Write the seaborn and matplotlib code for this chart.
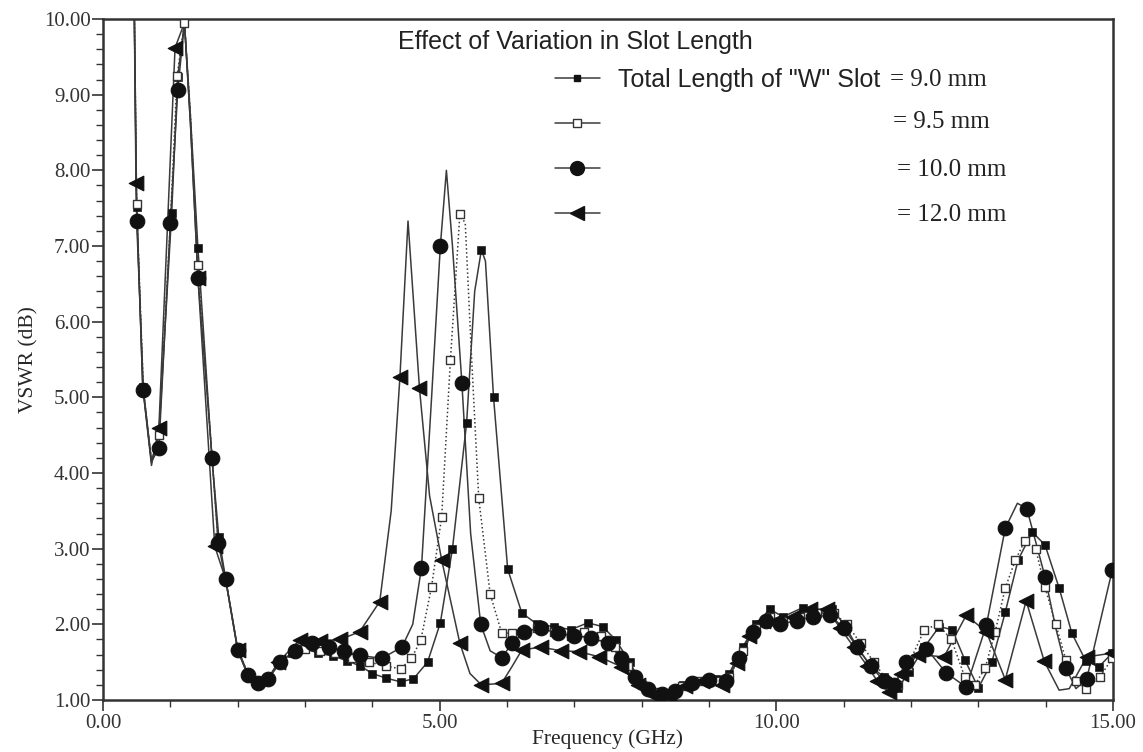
import matplotlib
matplotlib.use('Agg')
import matplotlib.pyplot as plt
from matplotlib.lines import Line2D
from matplotlib.ticker import MultipleLocator, FormatStrFormatter
import pandas as pd
import seaborn as sns

# ---- data (GHz, VSWR) ----
# marked points of each curve, plus a few extra points the line passes through
f_90 = [0.50, 0.59, 0.83, 1.02, 1.11, 1.21, 1.41, 1.62, 1.72, 1.82, 2.00, 2.15, 2.30, 2.45, 2.63,
        2.80, 2.98, 3.20, 3.42, 3.62, 3.82, 4.00, 4.20, 4.42, 4.61, 4.82, 5.01, 5.19, 5.40, 5.62,
        5.80, 6.01, 6.22, 6.45, 6.70, 6.95, 7.20, 7.42, 7.62, 7.82, 8.01, 8.20, 8.41, 8.61, 8.85,
        9.10, 9.30, 9.50, 9.70, 9.90, 10.10, 10.39, 10.60, 10.82, 11.01, 11.20, 11.40, 11.60, 11.81,
        11.97, 12.20, 12.42, 12.61, 12.80, 13.00, 13.20, 13.40, 13.59, 13.80, 13.99, 14.20, 14.39,
        14.60, 14.79, 14.99]
v_90 = [7.52, 5.14, 4.50, 7.44, 9.24, 9.95, 6.97, 4.17, 3.15, 2.61, 1.68, 1.35, 1.23, 1.28, 1.49,
        1.62, 1.68, 1.62, 1.58, 1.52, 1.45, 1.35, 1.29, 1.24, 1.28, 1.50, 2.02, 3.00, 4.66, 6.95,
        5.00, 2.73, 2.15, 2.00, 1.97, 1.93, 2.02, 1.97, 1.79, 1.50, 1.20, 1.10, 1.07, 1.20, 1.25,
        1.28, 1.35, 1.70, 2.00, 2.20, 2.10, 2.22, 2.15, 2.20, 2.00, 1.70, 1.45, 1.30, 1.16,
        1.37, 1.70, 1.97, 1.93, 1.53, 1.16, 1.50, 2.16, 2.85, 3.22, 3.05, 2.48, 1.88,
        1.51, 1.44, 1.62]
f_90_line = [0.46, 0.72, 1.30, 5.52, 5.68]
v_90_line = [10.5, 4.15, 8.70, 6.40, 6.80]

f_95 = [0.50, 0.60, 0.83, 1.00, 1.10, 1.21, 1.41, 1.62, 1.71, 1.82, 2.00, 2.15, 2.30, 2.45, 2.63,
        2.82, 3.00, 3.22, 3.45, 3.70, 3.95, 4.20, 4.42, 4.58, 4.72, 4.88, 5.03, 5.16, 5.30, 5.58,
        5.75, 5.92, 6.07, 6.22, 6.45, 6.70, 6.95, 7.15, 7.40, 7.60, 7.80, 8.00, 8.20, 8.40, 8.60,
        8.85, 9.10, 9.30, 9.50, 9.70, 9.90, 10.10, 10.35, 10.60, 10.85, 11.05, 11.25, 11.45, 11.65,
        11.80, 11.95, 12.20, 12.40, 12.60, 12.80, 12.95, 13.10, 13.25, 13.40, 13.55, 13.69, 13.85,
        13.99, 14.15, 14.30, 14.45, 14.60, 14.80, 14.99]
v_95 = [7.55, 5.10, 4.50, 7.30, 9.25, 9.95, 6.75, 4.20, 3.10, 2.60, 1.67, 1.35, 1.23, 1.28, 1.50,
        1.63, 1.68, 1.65, 1.62, 1.55, 1.50, 1.45, 1.41, 1.55, 1.79, 2.50, 3.42, 5.50, 7.42, 3.67,
        2.40, 1.89, 1.88, 1.90, 1.95, 1.90, 1.85, 1.90, 1.85, 1.70, 1.45, 1.20, 1.10, 1.08, 1.18,
        1.25, 1.25, 1.30, 1.65, 1.95, 2.10, 2.05, 2.10, 2.15, 2.15, 2.00, 1.75, 1.50, 1.25,
        1.20, 1.45, 1.93, 2.00, 1.80, 1.30, 1.20, 1.42, 1.90, 2.48, 2.85, 3.10, 3.00,
        2.49, 2.00, 1.53, 1.25, 1.15, 1.30, 1.55]
f_95_line = [0.46, 0.72, 1.30, 5.38, 5.47]
v_95_line = [10.5, 4.15, 8.70, 7.30, 5.60]

f_100 = [0.50, 0.60, 0.83, 1.00, 1.11, 1.41, 1.62, 1.71, 1.82, 2.00, 2.15, 2.30, 2.45, 2.63, 2.85,
         3.10, 3.35, 3.58, 3.81, 4.14, 4.44, 4.73, 5.01, 5.33, 5.61, 5.92, 6.08, 6.25, 6.50, 6.75,
         7.00, 7.25, 7.50, 7.70, 7.90, 8.10, 8.30, 8.50, 8.75, 9.00, 9.25, 9.45, 9.65, 9.85, 10.05,
         10.30, 10.55, 10.80, 11.00, 11.20, 11.40, 11.60, 11.75, 11.93, 12.23, 12.52, 12.82, 13.12,
         13.40, 13.72, 13.99, 14.30, 14.61, 14.99]
v_100 = [7.33, 5.10, 4.33, 7.30, 9.06, 6.58, 4.20, 3.08, 2.60, 1.66, 1.33, 1.22, 1.28, 1.50, 1.65,
         1.75, 1.70, 1.65, 1.59, 1.55, 1.70, 2.75, 7.00, 5.19, 2.00, 1.56, 1.75, 1.90, 1.95, 1.88,
         1.85, 1.82, 1.75, 1.55, 1.30, 1.15, 1.08, 1.12, 1.22, 1.27, 1.25, 1.55, 1.90, 2.05, 2.00,
         2.05, 2.10, 2.12, 1.95, 1.70, 1.45, 1.25, 1.20, 1.50, 1.68, 1.36, 1.17, 1.99,
         3.27, 3.53, 2.63, 1.42, 1.28, 2.72]
f_100_line = [0.46, 0.72, 1.21, 1.30, 4.60, 4.88, 5.10, 5.19, 5.46, 5.75, 13.58, 14.15, 14.45, 14.80]
v_100_line = [10.5, 4.15, 9.95, 8.60, 2.00, 5.00, 8.00, 7.00, 3.20, 1.65, 3.60, 1.95, 1.15, 2.00]

f_120 = [0.49, 0.83, 1.07, 1.41, 1.66, 2.00, 2.60, 2.92, 3.22, 3.52, 3.81, 4.11, 4.41, 4.70, 5.03,
         5.30, 5.62, 5.92, 6.22, 6.50, 6.80, 7.07, 7.37, 7.70, 7.95, 8.20, 8.40, 8.65, 8.90, 9.20,
         9.41, 9.60, 9.80, 10.00, 10.25, 10.50, 10.75, 10.95, 11.15, 11.35, 11.50, 11.68, 11.85,
         12.10, 12.49, 12.82, 13.12, 13.40, 13.71, 13.98, 14.61, 14.99]
v_120 = [7.83, 4.60, 9.62, 6.58, 3.03, 1.66, 1.50, 1.79, 1.78, 1.80, 1.90, 2.30, 5.27, 5.12, 2.85,
         1.75, 1.20, 1.22, 1.66, 1.70, 1.65, 1.64, 1.57, 1.44, 1.20, 1.05, 1.05, 1.18, 1.25, 1.20,
         1.49, 1.85, 2.05, 2.05, 2.10, 2.20, 2.20, 1.95, 1.70, 1.45, 1.25, 1.10, 1.35,
         1.60, 1.57, 2.12, 1.90, 1.27, 2.31, 1.51, 1.57, 1.62]
f_120_line = [0.46, 0.59, 0.72, 1.21, 1.30, 1.82, 2.15, 2.30, 2.45, 4.28, 4.53, 4.85, 5.45, 6.08,
              14.20, 14.35]
v_120_line = [10.5, 5.14, 4.10, 9.95, 8.60, 2.60, 1.33, 1.22, 1.28, 3.50, 7.33, 3.70, 1.35, 1.45,
              1.13, 1.15]

x_ticks = [0, 5, 10, 15]
y_ticks = [1, 2, 3, 4, 5, 6, 7, 8, 9, 10]

title = 'Effect of Variation in Slot Length'
legend_head = 'Total Length of "W" Slot'
legend_vals = ['= 9.0 mm', '= 9.5 mm', '= 10.0 mm', '= 12.0 mm']

# ---- style ----
LINE = '#3a3a3a'
INK = '#111111'
SERIF = ['Liberation Serif', 'DejaVu Serif']
SANS = ['Liberation Sans', 'DejaVu Sans']

sns.set_style('ticks')
plt.rcParams.update({
    'font.family': SERIF,
    'axes.edgecolor': '#333333',
    'axes.linewidth': 1.8,
    'xtick.color': '#333333',
    'ytick.color': '#333333',
})

fig = plt.figure(figsize=(11.43, 7.52), dpi=100)
ax = fig.add_axes([103 / 1143, 1 - 700 / 752, (1113 - 103) / 1143, (700 - 19) / 752])

series = [
    (f_90, v_90, f_90_line, v_90_line, '-',
     dict(marker='s', s=30, color=INK, edgecolor=INK)),
    (f_95, v_95, f_95_line, v_95_line, ':',
     dict(marker='s', s=34, facecolor='white', edgecolor='#333333', linewidth=1.0)),
    (f_100, v_100, f_100_line, v_100_line, '-',
     dict(marker='o', s=110, color=INK, edgecolor=INK)),
    (f_120, v_120, f_120_line, v_120_line, '-',
     dict(marker='<', s=110, color=INK, edgecolor=INK)),
]

for fm, vm, fl, vl, ls, mk in series:
    df = pd.DataFrame({'freq': fm + fl, 'vswr': vm + vl}).sort_values('freq')
    sns.lineplot(data=df, x='freq', y='vswr', ax=ax, color=LINE, linewidth=1.1,
                 linestyle=ls, estimator=None, sort=False, zorder=2)
    sns.scatterplot(x=fm, y=vm, ax=ax, zorder=3, **mk)

ax.set_xlim(0, 15)
ax.set_ylim(1, 10)
ax.set_xticks(x_ticks)
ax.set_yticks(y_ticks)
ax.xaxis.set_minor_locator(MultipleLocator(1))
ax.yaxis.set_minor_locator(MultipleLocator(0.2))
ax.xaxis.set_major_formatter(FormatStrFormatter('%.2f'))
ax.yaxis.set_major_formatter(FormatStrFormatter('%.2f'))
ax.tick_params(axis='both', which='major', length=8, width=1.2, labelsize=15, direction='out')
ax.tick_params(axis='both', which='minor', length=5, width=1.0, direction='out')
ax.tick_params(axis='y', pad=1)
ax.tick_params(axis='x', pad=2)
for s in ax.spines.values():
    s.set_visible(True)
    s.set_linewidth(1.8)
ax.set_xlabel('Frequency (GHz)', fontsize=15.5, va='center')
ax.xaxis.set_label_coords(0.5, -39 / 681)
ax.set_ylabel('VSWR (dB)', fontsize=15.5, labelpad=4)

# title and legend
fig.text(398 / 1143, 1 - 42 / 752, title, family=SANS, fontsize=18, color='#222222',
         ha='left', va='center')

handles = [
    Line2D([], [], color=LINE, lw=1.1, marker='s', ms=5, mfc=INK, mec=INK),
    Line2D([], [], color=LINE, lw=1.1, marker='s', ms=5.5, mfc='white', mec='#333333'),
    Line2D([], [], color=LINE, lw=1.1, marker='o', ms=10, mfc=INK, mec=INK),
    Line2D([], [], color=LINE, lw=1.1, marker='<', ms=10, mfc=INK, mec=INK),
]
leg = ax.legend(handles, [' '] * 4, loc='upper left', frameon=False, fontsize=14,
                bbox_to_anchor=(555 / 1143, 1 - 71 / 752), bbox_transform=fig.transFigure,
                handlelength=2.3, handletextpad=0, labelspacing=1.42, borderpad=0,
                borderaxespad=0)

row_y = [80, 122, 170, 215]
fig.text(618 / 1143, 1 - row_y[0] / 752, legend_head, family=SANS, fontsize=18,
         color='#222222', ha='left', va='center')
val_x = [890, 893, 897, 897]
for xv, yv, txt in zip(val_x, row_y, legend_vals):
    fig.text(xv / 1143, 1 - yv / 752, txt, family=SERIF, fontsize=18, color='#222222',
             ha='left', va='center')

fig.savefig('out.png', dpi=100)
